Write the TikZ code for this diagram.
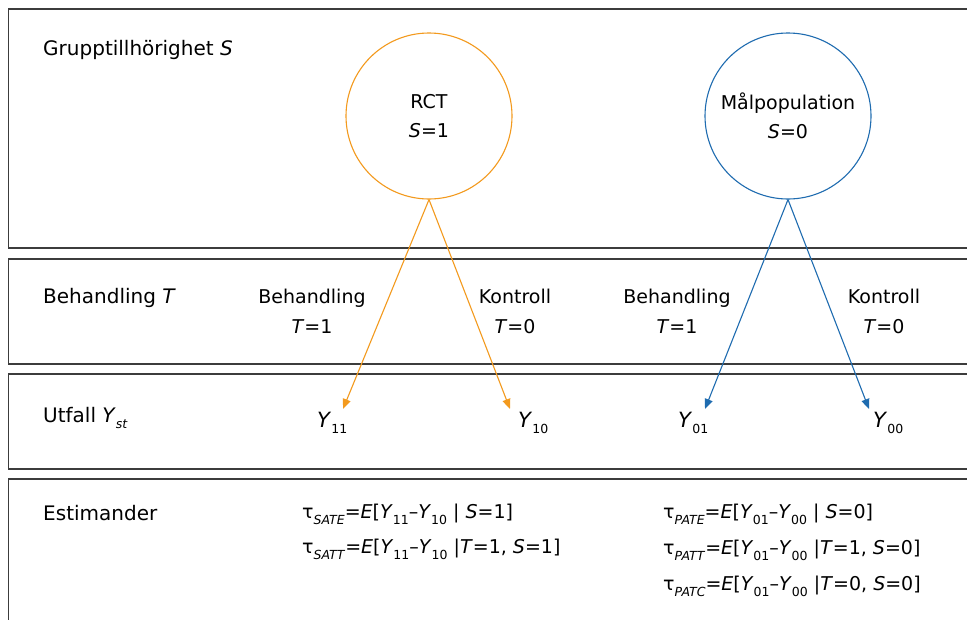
\documentclass[tikz,border=0pt]{standalone}
\usepackage{fontspec}
\setmainfont{DejaVu Sans}
\usetikzlibrary{arrows.meta}
\definecolor{rctorange}{HTML}{F39A1E}
\definecolor{popblue}{HTML}{1F6CB0}
\definecolor{framegray}{HTML}{3C3C3C}
% lowered small index, as used for Y_{st} and the tau subscripts
\newcommand{\lowsub}[1]{\raisebox{-0.6ex}{\fontsize{12.5}{12.5}\selectfont #1}}

\begin{document}
\begin{tikzpicture}[x=1pt,y=-1pt,
  lbl/.style={font=\fontsize{19}{29}\selectfont, inner sep=0pt},
  title/.style={inner sep=0pt, anchor=base west, font=\fontsize{20}{24}\selectfont},
  twoline/.style={lbl, align=center, font=\fontsize{19}{30}\selectfont},
  band/.style={draw=framegray, line width=1.1pt},
  group/.style={circle, line width=1.1pt, minimum size=166pt, inner sep=0pt,
    align=center, font=\fontsize{19}{29}\selectfont},
  flow/.style={line width=1.1pt, -{Triangle[length=10pt,width=8pt]}},
  outcome/.style={lbl, anchor=base west, font=\fontsize{21}{21}\selectfont},
]
\clip (0,0) rectangle (967,619);
\fill[white] (0,0) rectangle (967,619);

% the four horizontal bands
\draw[band] (8.5,9) rectangle (990,248);
\draw[band] (8.5,259) rectangle (990,364);
\draw[band] (8.5,374) rectangle (990,469);
\draw[band] (8.5,479) rectangle (990,660);

% band titles
\node[title] (tS) at (43,55) {Grupptillhörighet \textit{S}};
\node[title] (tT) at (43,303) {Behandling \textit{T}};
\node[title] (tY) at (43,422) {Utfall \textit{Y}\lowsub{\textit{st}}};
\node[title] (tE) at (43,520) {Estimander};

% group membership
\node[group, draw=rctorange] (rct) at (429,116) {RCT\\\textit{S}=1};
\node[group, draw=popblue] (pop) at (788,116) {Målpopulation\\\textit{S}=0};

% treatment labels
\node[twoline] (b1) at (312,311) {Behandling\\\textit{T}=1};
\node[twoline] (k1) at (515,311) {Kontroll\\\textit{T}=0};
\node[twoline] (b0) at (677,311) {Behandling\\\textit{T}=1};
\node[twoline] (k0) at (884,311) {Kontroll\\\textit{T}=0};

% potential outcomes
\node[outcome] (y11) at (317,427) {\textit{Y}\lowsub{11}};
\node[outcome] (y10) at (518,427) {\textit{Y}\lowsub{10}};
\node[outcome] (y01) at (678,427) {\textit{Y}\lowsub{01}};
\node[outcome] (y00) at (873,427) {\textit{Y}\lowsub{00}};

\coordinate (a11) at (343,409);
\coordinate (a10) at (510,409);
\coordinate (a01) at (705,409);
\coordinate (a00) at (869,409);

\draw[flow, rctorange] (rct.south) -- (a11);
\draw[flow, rctorange] (rct.south) -- (a10);
\draw[flow, popblue] (pop.south) -- (a01);
\draw[flow, popblue] (pop.south) -- (a00);

% estimands
\node[lbl, anchor=base west] (sate) at (302,518)
  {τ\lowsub{\textit{SATE}}=\textit{E}[\textit{Y}\lowsub{11}–\textit{Y}\lowsub{10} | \textit{S}=1]};
\node[lbl, anchor=base west] (satt) at (302,553)
  {τ\lowsub{\textit{SATT}}=\textit{E}[\textit{Y}\lowsub{11}–\textit{Y}\lowsub{10} |\textit{T}=1, \textit{S}=1]};
\node[lbl, anchor=base west] (pate) at (663,518)
  {τ\lowsub{\textit{PATE}}=\textit{E}[\textit{Y}\lowsub{01}–\textit{Y}\lowsub{00} | \textit{S}=0]};
\node[lbl, anchor=base west] (patt) at (663,554)
  {τ\lowsub{\textit{PATT}}=\textit{E}[\textit{Y}\lowsub{01}–\textit{Y}\lowsub{00} |\textit{T}=1, \textit{S}=0]};
\node[lbl, anchor=base west] (patc) at (663,590)
  {τ\lowsub{\textit{PATC}}=\textit{E}[\textit{Y}\lowsub{01}–\textit{Y}\lowsub{00} |\textit{T}=0, \textit{S}=0]};
\end{tikzpicture}
\end{document}
